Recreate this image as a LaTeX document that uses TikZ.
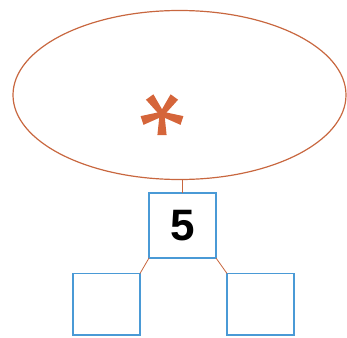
\documentclass[tikz,border=0pt]{standalone}
\usepackage{fontspec}
\setmainfont{Liberation Sans}
\usetikzlibrary{shapes.geometric}
\definecolor{ellc}{HTML}{C8673F}
\definecolor{astc}{HTML}{D5653A}
\definecolor{boxc}{HTML}{4A9AD6}
\begin{document}
\begin{tikzpicture}[x=1pt,y=-1pt,
  boxst/.style={draw=boxc,line width=1.8pt,minimum width=67pt,minimum height=65pt,inner sep=0pt,outer sep=0pt},
  link/.style={draw=ellc,line width=0.8pt}]
\useasboundingbox (0,0) rectangle (347,337);
\node[draw=ellc,line width=1.2pt,ellipse,minimum width=333pt,minimum height=169pt,inner sep=0pt] (ell) at (179.5,95) {};
% asterisk
\begin{scope}[shift={(162,114)}]
\foreach \a in {-90,-18,54,126,198}{
  \fill[astc,rotate=\a] (0,-2.4) -- (21,-4.6) -- (21,4.6) -- (0,2.4) -- cycle;
}
\end{scope}
\node[boxst] (top) at (182.5,225.5) {\fontsize{44}{44}\selectfont\bfseries 5};
\node[boxst,minimum height=61.5pt,anchor=north west] (left) at (73,273.5) {};
\node[boxst,minimum height=61.5pt,anchor=north west] (right) at (227,273.5) {};
\draw[link] (ell.south -| top.north) -- (top.north);
\draw[link] (top.south west) -- (left.north east);
\draw[link] (top.south east) -- (right.north west);
\end{tikzpicture}
\end{document}
